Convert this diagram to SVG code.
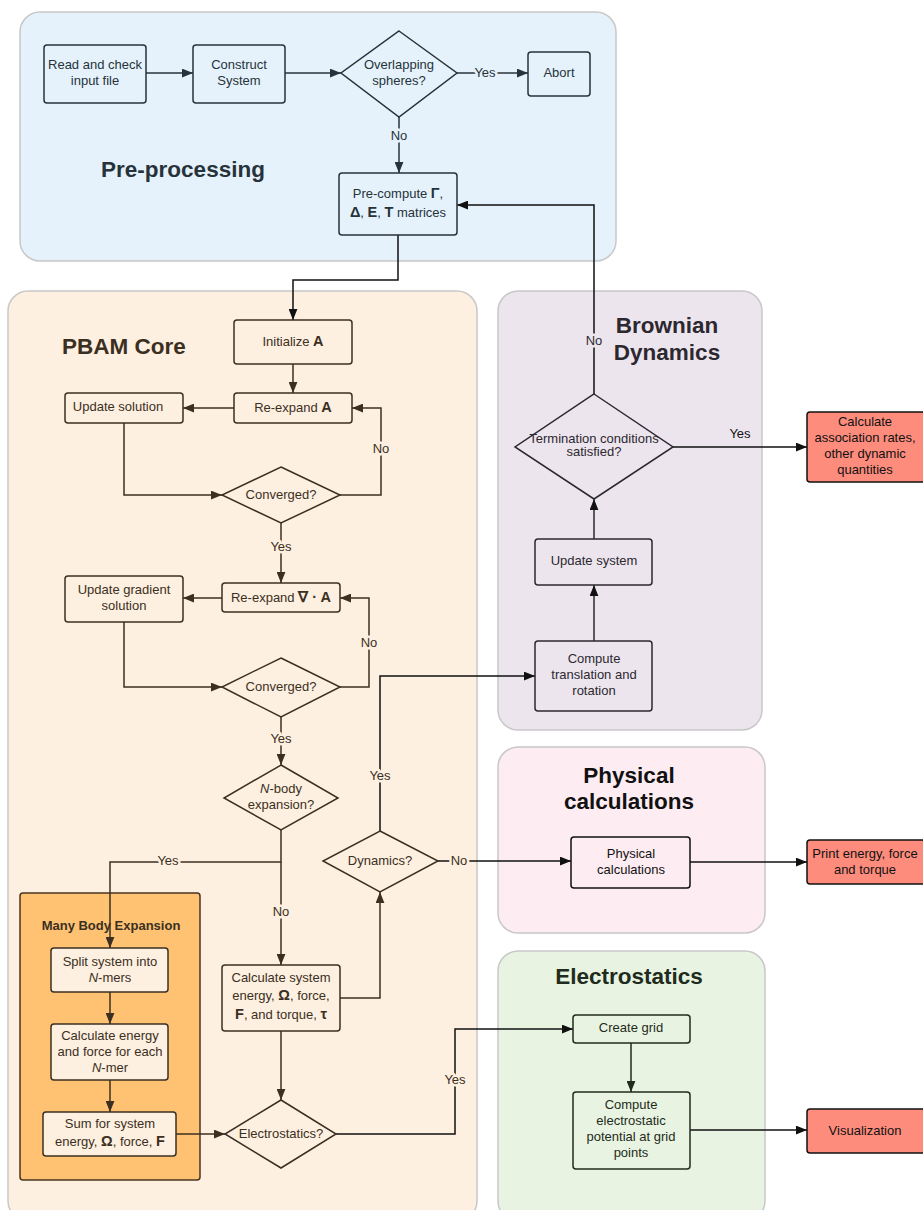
<svg xmlns="http://www.w3.org/2000/svg" width="923" height="1210" viewBox="0 0 923 1210">
<style>
text{font-family:"Liberation Sans",Arial,sans-serif;font-size:13px;text-anchor:middle}
.t{font-size:22.5px;font-weight:bold}
.b{font-weight:bold;font-size:14.5px}
.lbl{paint-order:stroke;stroke-width:5px;stroke-linejoin:round}
.cont{stroke:#c8c8c8;stroke-width:1.5}
.pre .n{fill:#e5f2fb;stroke:#27323a;stroke-width:1.5}
.pre text{fill:#27323a}
.core .n{fill:#fdf0e0;stroke:#3b2f22;stroke-width:1.5}
.core text{fill:#3b2f22}
.bd .n{fill:#ede5ee;stroke:#2c2830;stroke-width:1.5}
.bd text{fill:#2c2830}
.ph .n{fill:#fdecf1;stroke:#111;stroke-width:1.5}
.ph text{fill:#111}
.es .n{fill:#e8f4e1;stroke:#1f2b1c;stroke-width:1.5}
.es text{fill:#1f2b1c}
.out .n{fill:#fd8c7d;stroke:#111;stroke-width:1.5}
.out text{fill:#111}
.c{fill:none;stroke-width:1.5}
</style>
<defs>
<marker id="a1" viewBox="0 0 10 8" refX="10" refY="4" markerWidth="11" markerHeight="9" orient="auto" markerUnits="userSpaceOnUse"><path d="M0,0L10,4L0,8z" fill="#27323a"/></marker>
<marker id="a2" viewBox="0 0 10 8" refX="10" refY="4" markerWidth="11" markerHeight="9" orient="auto" markerUnits="userSpaceOnUse"><path d="M0,0L10,4L0,8z" fill="#3b2f22"/></marker>
<marker id="a3" viewBox="0 0 10 8" refX="10" refY="4" markerWidth="11" markerHeight="9" orient="auto" markerUnits="userSpaceOnUse"><path d="M0,0L10,4L0,8z" fill="#111"/></marker>
<marker id="a4" viewBox="0 0 10 8" refX="10" refY="4" markerWidth="11" markerHeight="9" orient="auto" markerUnits="userSpaceOnUse"><path d="M0,0L10,4L0,8z" fill="#1f2b1c"/></marker>
</defs>

<!-- containers -->
<g id="containers">
<rect class="cont" x="20" y="12" width="596" height="249" rx="20" fill="#e5f2fb"/>
<rect class="cont" x="8" y="291" width="469" height="930" rx="20" fill="#fdf0e0"/>
<rect class="cont" x="498" y="291" width="264" height="439" rx="20" fill="#ede5ee"/>
<rect class="cont" x="498" y="747" width="267" height="186" rx="20" fill="#fdecf1"/>
<rect class="cont" x="498" y="951" width="267" height="270" rx="20" fill="#e8f4e1"/>
<rect x="20" y="893" width="180" height="287" rx="3" fill="#fec272" stroke="#4a3520" stroke-width="1.5"/>
</g>

<g id="titles">
<text class="t" x="183" y="177" fill="#27323a">Pre-processing</text>
<text class="t" x="124" y="354" fill="#3b2f22">PBAM Core</text>
<text class="t" x="667" y="333" fill="#2c2830">Brownian</text>
<text class="t" x="667" y="360" fill="#2c2830">Dynamics</text>
<text class="t" x="629" y="783" fill="#111">Physical</text>
<text class="t" x="629" y="809" fill="#111">calculations</text>
<text class="t" x="629" y="984" fill="#1f2b1c">Electrostatics</text>
<text x="111" y="930" font-weight="bold" fill="#3b2f22">Many Body Expansion</text>
</g>

<!-- connectors -->
<g id="connectors">
<path class="c" stroke="#27323a" d="M146,73H193" marker-end="url(#a1)"/>
<path class="c" stroke="#27323a" d="M285,73H341" marker-end="url(#a1)"/>
<path class="c" stroke="#27323a" d="M457,73H528" marker-end="url(#a1)"/>
<path class="c" stroke="#27323a" d="M399,117V173" marker-end="url(#a1)"/>
<path class="c" stroke="#111" d="M398,235V280H293V320" marker-end="url(#a3)"/>
<path class="c" stroke="#111" d="M594,394V205H457" marker-end="url(#a3)"/>
<path class="c" stroke="#3b2f22" d="M293,364V393" marker-end="url(#a2)"/>
<path class="c" stroke="#3b2f22" d="M234,408H183" marker-end="url(#a2)"/>
<path class="c" stroke="#3b2f22" d="M124,423V495H222" marker-end="url(#a2)"/>
<path class="c" stroke="#3b2f22" d="M340,495H381V408H352" marker-end="url(#a2)"/>
<path class="c" stroke="#3b2f22" d="M281,523V583" marker-end="url(#a2)"/>
<path class="c" stroke="#3b2f22" d="M222,598H183" marker-end="url(#a2)"/>
<path class="c" stroke="#3b2f22" d="M124,622V687H222" marker-end="url(#a2)"/>
<path class="c" stroke="#3b2f22" d="M340,687H369V598H340" marker-end="url(#a2)"/>
<path class="c" stroke="#3b2f22" d="M281,717V765" marker-end="url(#a2)"/>
<path class="c" stroke="#3b2f22" d="M281,830V862H110V948" marker-end="url(#a2)"/>
<path class="c" stroke="#3b2f22" d="M281,862V965" marker-end="url(#a2)"/>
<path class="c" stroke="#3b2f22" d="M110,992V1024" marker-end="url(#a2)"/>
<path class="c" stroke="#3b2f22" d="M110,1080V1112" marker-end="url(#a2)"/>
<path class="c" stroke="#3b2f22" d="M176,1134H225" marker-end="url(#a2)"/>
<path class="c" stroke="#3b2f22" d="M281,1031V1100" marker-end="url(#a2)"/>
<path class="c" stroke="#3b2f22" d="M340,998H380V892" marker-end="url(#a2)"/>
<path class="c" stroke="#111" d="M380,831V676H535" marker-end="url(#a3)"/>
<path class="c" stroke="#111" d="M438,861H571" marker-end="url(#a3)"/>
<path class="c" stroke="#111" d="M336,1134H455V1029H573" marker-end="url(#a3)"/>
<path class="c" stroke="#2c2830" d="M594,641V585" marker-end="url(#a3)"/>
<path class="c" stroke="#2c2830" d="M594,539V499" marker-end="url(#a3)"/>
<path class="c" stroke="#111" d="M673,447H807" marker-end="url(#a3)"/>
<path class="c" stroke="#111" d="M690,862H807" marker-end="url(#a3)"/>
<path class="c" stroke="#1f2b1c" d="M631,1043V1092" marker-end="url(#a4)"/>
<path class="c" stroke="#111" d="M690,1130H807" marker-end="url(#a3)"/>
<g id="edge-labels">
<text class="lbl" x="485" y="77" fill="#27323a" stroke="#e5f2fb">Yes</text>
<text class="lbl" x="399" y="140" fill="#27323a" stroke="#e5f2fb">No</text>
<text class="lbl" x="594" y="345" fill="#2c2830" stroke="#ede5ee">No</text>
<text x="740" y="438" fill="#111">Yes</text>
<text class="lbl" x="381" y="453" fill="#3b2f22" stroke="#fdf0e0">No</text>
<text class="lbl" x="281" y="551" fill="#3b2f22" stroke="#fdf0e0">Yes</text>
<text class="lbl" x="369" y="647" fill="#3b2f22" stroke="#fdf0e0">No</text>
<text class="lbl" x="281" y="743" fill="#3b2f22" stroke="#fdf0e0">Yes</text>
<text class="lbl" x="380" y="780" fill="#3b2f22" stroke="#fdf0e0">Yes</text>
<text class="lbl" x="168" y="865" fill="#3b2f22" stroke="#fdf0e0">Yes</text>
<text class="lbl" x="281" y="916" fill="#3b2f22" stroke="#fdf0e0">No</text>
<text class="lbl" x="459" y="865" fill="#3b2f22" stroke="#fdf0e0">No</text>
<text class="lbl" x="455" y="1084" fill="#3b2f22" stroke="#fdf0e0">Yes</text>
</g>
</g>

<!-- pre-processing nodes -->
<g class="pre">
<g id="read"><rect class="n" x="44" y="45" width="102" height="58" rx="3"/><text x="95" y="69">Read and check</text><text x="95" y="85">input file</text></g>
<g id="construct"><rect class="n" x="193" y="45" width="92" height="58" rx="3"/><text x="239" y="69">Construct</text><text x="239" y="85">System</text></g>
<g id="overlap"><path class="n" d="M399,31L457,73L399,117L341,73Z"/><text x="399" y="69">Overlapping</text><text x="399" y="85">spheres?</text></g>
<g id="abort"><rect class="n" x="528" y="52" width="62" height="44" rx="3"/><text x="559" y="77">Abort</text></g>
<g id="precompute"><rect class="n" x="339" y="173" width="118" height="62" rx="3"/><text x="398" y="198">Pre-compute <tspan class="b">Γ</tspan>,</text><text x="398" y="217"><tspan class="b">Δ</tspan>, <tspan class="b">E</tspan>, <tspan class="b">T</tspan> matrices</text></g>
</g>

<!-- PBAM core nodes -->
<g class="core">
<g id="initA"><rect class="n" x="234" y="320" width="118" height="44" rx="3"/><text x="293" y="346">Initialize <tspan class="b" font-size="15.5">A</tspan></text></g>
<g id="reexpA"><rect class="n" x="234" y="393" width="118" height="30" rx="3"/><text x="293" y="412">Re-expand <tspan class="b" font-size="15.5">A</tspan></text></g>
<g id="updsol"><rect class="n" x="65" y="393" width="118" height="30" rx="3"/><text x="118" y="411">Update solution</text></g>
<g id="conv1"><path class="n" d="M281,467L340,495L281,523L222,495Z"/><text x="281" y="499">Converged?</text></g>
<g id="reexpG"><rect class="n" x="222" y="583" width="118" height="29" rx="3"/><text x="281" y="602">Re-expand <tspan class="b" font-size="15.5">∇ · A</tspan></text></g>
<g id="updgrad"><rect class="n" x="65" y="576" width="118" height="46" rx="3"/><text x="124" y="594">Update gradient</text><text x="124" y="610">solution</text></g>
<g id="conv2"><path class="n" d="M281,658L340,687L281,717L222,687Z"/><text x="281" y="691">Converged?</text></g>
<g id="nbody"><path class="n" d="M281,765L338,798L281,830L224,798Z"/><text x="281" y="793"><tspan font-style="italic">N</tspan>-body</text><text x="281" y="809">expansion?</text></g>
<g id="dyn"><path class="n" d="M380,831L438,861L380,892L323,861Z"/><text x="380" y="865">Dynamics?</text></g>
<g id="split"><rect class="n" x="51" y="948" width="117" height="44" rx="3"/><text x="110" y="966">Split system into</text><text x="110" y="982"><tspan font-style="italic">N</tspan>-mers</text></g>
<g id="calcN"><rect class="n" x="51" y="1024" width="117" height="56" rx="3"/><text x="110" y="1040">Calculate energy</text><text x="110" y="1056">and force for each</text><text x="110" y="1072"><tspan font-style="italic">N</tspan>-mer</text></g>
<g id="sum"><rect class="n" x="43" y="1112" width="133" height="44" rx="3"/><text x="110" y="1128">Sum for system</text><text x="110" y="1146">energy, <tspan class="b">Ω</tspan>, force, <tspan class="b">F</tspan></text></g>
<g id="calcsys"><rect class="n" x="222" y="965" width="118" height="66" rx="3"/><text x="281" y="982">Calculate system</text><text x="281" y="1000">energy, <tspan class="b">Ω</tspan>, force,</text><text x="281" y="1019"><tspan class="b">F</tspan>, and torque, <tspan class="b">τ</tspan></text></g>
<g id="electro"><path class="n" d="M281,1100L336,1134L281,1168L225,1134Z"/><text x="281" y="1138">Electrostatics?</text></g>
</g>

<!-- Brownian dynamics nodes -->
<g class="bd">
<g id="term"><path class="n" d="M594,394L673,447L594,499L515,447Z"/><text x="594" y="443">Termination conditions</text><text x="594" y="456">satisfied?</text></g>
<g id="updsys"><rect class="n" x="535" y="539" width="117" height="46" rx="3"/><text x="594" y="565">Update system</text></g>
<g id="comptr"><rect class="n" x="535" y="641" width="117" height="70" rx="3"/><text x="594" y="663">Compute</text><text x="594" y="679">translation and</text><text x="594" y="695">rotation</text></g>
</g>

<g class="ph">
<g id="physcalc"><rect class="n" x="571" y="837" width="119" height="51" rx="3"/><text x="631" y="858">Physical</text><text x="631" y="874">calculations</text></g>
</g>

<g class="es">
<g id="grid"><rect class="n" x="573" y="1015" width="117" height="28" rx="3"/><text x="631" y="1032">Create grid</text></g>
<g id="potential"><rect class="n" x="573" y="1092" width="117" height="77" rx="3"/><text x="631" y="1109">Compute</text><text x="631" y="1125">electrostatic</text><text x="631" y="1141">potential at grid</text><text x="631" y="1157">points</text></g>
</g>

<g class="out">
<g id="assoc"><rect class="n" x="807" y="412" width="118" height="70" rx="3"/><text x="865" y="426">Calculate</text><text x="865" y="442">association rates,</text><text x="865" y="458">other dynamic</text><text x="865" y="474">quantities</text></g>
<g id="print"><rect class="n" x="807" y="840" width="118" height="44" rx="3"/><text x="865" y="858">Print energy, force</text><text x="865" y="874">and torque</text></g>
<g id="vis"><rect class="n" x="807" y="1109" width="118" height="44" rx="3"/><text x="865" y="1135">Visualization</text></g>
</g>
</svg>
